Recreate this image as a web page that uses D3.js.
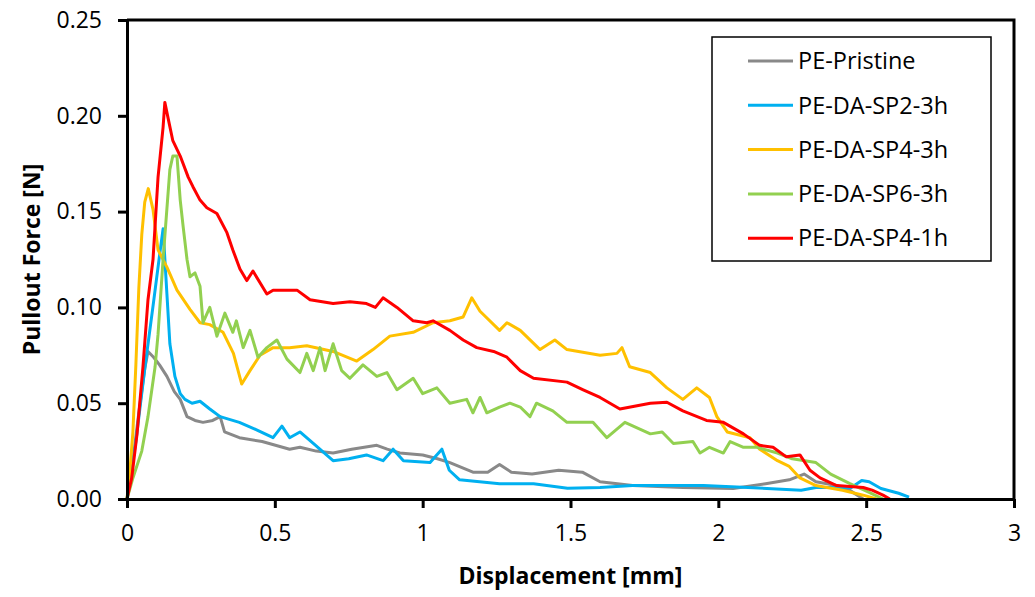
<!DOCTYPE html>
<html>
<head>
<meta charset="utf-8">
<script src="https://cdn.jsdelivr.net/npm/d3@7"></script>
<style>
  body { margin: 0; background: #fff; }
  svg text { font-family: "Open Sans", sans-serif; fill: #000; }
</style>
</head>
<body>
<svg id="drawing_region"></svg>
<script>
// pullout curves: [displacement (mm), force (N)]
const pristine = [[0,0],[0.02,0.02],[0.04,0.045],[0.06,0.068],[0.071,0.077],[0.09,0.074],[0.11,0.07],[0.135,0.064],[0.16,0.056],[0.18,0.052],[0.203,0.043],[0.23,0.041],[0.257,0.040],[0.29,0.041],[0.315,0.043],[0.33,0.035],[0.38,0.032],[0.457,0.030],[0.55,0.026],[0.585,0.027],[0.64,0.025],[0.697,0.024],[0.76,0.026],[0.845,0.028],[0.88,0.026],[0.923,0.024],[1.0,0.023],[1.05,0.021],[1.092,0.019],[1.17,0.014],[1.22,0.014],[1.26,0.018],[1.30,0.014],[1.37,0.013],[1.46,0.015],[1.54,0.014],[1.6,0.009],[1.71,0.007],[1.88,0.006],[2.05,0.0055],[2.16,0.008],[2.24,0.010],[2.29,0.013],[2.33,0.009],[2.40,0.007],[2.445,0.0045],[2.47,0.002],[2.49,0]];
const sp2_3h = [[0,0],[0.03,0.03],[0.06,0.068],[0.09,0.103],[0.11,0.127],[0.122,0.141],[0.135,0.107],[0.145,0.081],[0.162,0.064],[0.18,0.055],[0.196,0.052],[0.22,0.050],[0.247,0.051],[0.28,0.047],[0.315,0.043],[0.38,0.040],[0.44,0.036],[0.494,0.032],[0.524,0.038],[0.55,0.032],[0.585,0.035],[0.63,0.029],[0.697,0.020],[0.75,0.021],[0.81,0.023],[0.866,0.020],[0.9,0.026],[0.935,0.020],[1.025,0.019],[1.065,0.026],[1.09,0.015],[1.125,0.010],[1.26,0.008],[1.375,0.008],[1.49,0.0056],[1.6,0.006],[1.71,0.007],[1.83,0.007],[1.95,0.007],[2.1,0.006],[2.28,0.0046],[2.33,0.006],[2.40,0.006],[2.45,0.006],[2.485,0.0097],[2.51,0.009],[2.55,0.0055],[2.61,0.003],[2.645,0.001]];
const sp4_3h = [[0,0],[0.01,0.015],[0.02,0.035],[0.03,0.07],[0.04,0.11],[0.05,0.138],[0.06,0.155],[0.072,0.162],[0.088,0.151],[0.105,0.13],[0.135,0.121],[0.169,0.109],[0.213,0.099],[0.247,0.092],[0.28,0.091],[0.325,0.087],[0.36,0.076],[0.388,0.060],[0.416,0.067],[0.45,0.075],[0.494,0.079],[0.55,0.079],[0.608,0.080],[0.697,0.077],[0.777,0.072],[0.832,0.078],[0.889,0.085],[0.968,0.087],[1.035,0.092],[1.092,0.093],[1.137,0.095],[1.166,0.105],[1.194,0.098],[1.26,0.088],[1.285,0.092],[1.33,0.088],[1.397,0.078],[1.447,0.083],[1.488,0.078],[1.6,0.075],[1.657,0.076],[1.674,0.079],[1.70,0.069],[1.77,0.066],[1.826,0.058],[1.88,0.052],[1.927,0.058],[1.97,0.053],[1.995,0.043],[2.03,0.035],[2.107,0.032],[2.14,0.026],[2.2,0.020],[2.24,0.017],[2.276,0.011],[2.33,0.007],[2.42,0.0046],[2.49,0.002],[2.535,0]];
const sp6_3h = [[0,0],[0.02,0.011],[0.05,0.025],[0.071,0.043],[0.095,0.069],[0.105,0.086],[0.122,0.125],[0.145,0.172],[0.155,0.179],[0.169,0.179],[0.18,0.156],[0.19,0.142],[0.203,0.125],[0.213,0.116],[0.23,0.118],[0.247,0.111],[0.257,0.092],[0.28,0.100],[0.304,0.085],[0.331,0.097],[0.358,0.087],[0.37,0.093],[0.393,0.079],[0.416,0.088],[0.443,0.074],[0.473,0.079],[0.507,0.083],[0.541,0.073],[0.585,0.066],[0.608,0.076],[0.63,0.067],[0.653,0.079],[0.67,0.067],[0.697,0.081],[0.726,0.067],[0.754,0.063],[0.798,0.070],[0.845,0.064],[0.879,0.066],[0.913,0.057],[0.968,0.063],[1.0,0.055],[1.048,0.058],[1.092,0.050],[1.149,0.052],[1.17,0.045],[1.194,0.053],[1.217,0.045],[1.26,0.048],[1.295,0.050],[1.33,0.048],[1.363,0.043],[1.385,0.050],[1.44,0.046],[1.488,0.040],[1.576,0.040],[1.623,0.032],[1.684,0.040],[1.77,0.034],[1.81,0.035],[1.848,0.029],[1.914,0.030],[1.938,0.024],[1.97,0.027],[2.017,0.024],[2.04,0.030],[2.085,0.027],[2.13,0.027],[2.2,0.024],[2.25,0.021],[2.33,0.019],[2.38,0.013],[2.445,0.008],[2.51,0.0035],[2.557,0]];
const sp4_1h = [[0,0],[0.016,0.011],[0.034,0.034],[0.054,0.069],[0.071,0.104],[0.088,0.125],[0.105,0.168],[0.122,0.194],[0.128,0.207],[0.14,0.198],[0.155,0.187],[0.18,0.179],[0.207,0.168],[0.223,0.163],[0.247,0.156],[0.27,0.152],[0.304,0.149],[0.338,0.139],[0.358,0.130],[0.382,0.120],[0.405,0.114],[0.426,0.119],[0.473,0.107],[0.494,0.109],[0.575,0.109],[0.619,0.104],[0.697,0.102],[0.754,0.103],[0.81,0.102],[0.84,0.100],[0.866,0.105],[0.913,0.100],[0.968,0.093],[1.014,0.092],[1.035,0.093],[1.092,0.088],[1.137,0.083],[1.183,0.079],[1.24,0.077],[1.285,0.074],[1.33,0.067],[1.375,0.063],[1.488,0.061],[1.543,0.057],[1.6,0.053],[1.667,0.047],[1.77,0.050],[1.826,0.0505],[1.88,0.046],[1.96,0.041],[2.017,0.040],[2.085,0.034],[2.14,0.028],[2.185,0.027],[2.23,0.022],[2.276,0.023],[2.31,0.015],[2.344,0.011],[2.40,0.007],[2.49,0.006],[2.52,0.0046],[2.557,0.002],[2.58,0]];

const seriesNames = ['PE-Pristine', 'PE-DA-SP2-3h', 'PE-DA-SP4-3h', 'PE-DA-SP6-3h', 'PE-DA-SP4-1h'];
const seriesData = [pristine, sp2_3h, sp4_3h, sp6_3h, sp4_1h];
const seriesColors = ['#898989', '#00b0f0', '#ffc000', '#92d050', '#ff0000'];

const xTicks = [0, 0.5, 1, 1.5, 2, 2.5, 3];
const yTicks = [0, 0.05, 0.10, 0.15, 0.20, 0.25];

const width = 1035, height = 597;
const margin = {top: 20, right: 21, bottom: 98, left: 127};
const innerW = width - margin.left - margin.right;
const innerH = height - margin.top - margin.bottom;

const svg = d3.select('#drawing_region')
    .attr('width', width)
    .attr('height', height);

const chart = svg.append('g')
    .attr('transform', `translate(${margin.left}, ${margin.top})`);

const x = d3.scaleLinear().domain([0, 3]).range([0, innerW]);
const y = d3.scaleLinear().domain([0, 0.25]).range([innerH, 0]);

// curves
const line = d3.line()
    .x(d => x(d[0]))
    .y(d => y(d[1]));

chart.selectAll('.curve')
    .data(seriesData)
    .enter()
    .append('path')
    .attr('class', 'curve')
    .attr('d', line)
    .attr('fill', 'none')
    .attr('stroke', (d, i) => seriesColors[i])
    .attr('stroke-width', 3)
    .attr('stroke-linejoin', 'round');

// frame: top and right edges
chart.append('path')
    .attr('d', `M0,0H${innerW}V${innerH}`)
    .attr('fill', 'none')
    .attr('stroke', '#000')
    .attr('stroke-width', 3);

// axes
const xAxis = chart.append('g')
    .attr('transform', `translate(0, ${innerH})`)
    .call(d3.axisBottom(x).tickValues(xTicks).tickFormat(d3.format('')).tickSizeInner(9).tickSizeOuter(0).tickPadding(17));

const yAxis = chart.append('g')
    .call(d3.axisLeft(y).tickValues(yTicks).tickFormat(d3.format('.2f')).tickSizeInner(9).tickSizeOuter(0).tickPadding(16));

[xAxis, yAxis].forEach(ax => {
    ax.select('.domain').attr('stroke', '#000').attr('stroke-width', 3);
    ax.selectAll('.tick line').attr('stroke', '#000').attr('stroke-width', 3);
    ax.selectAll('.tick text')
        .style('font-family', '"Open Sans", sans-serif')
        .style('font-size', '23px');
});

// axis titles
svg.append('text')
    .attr('x', margin.left + innerW / 2)
    .attr('y', 584)
    .attr('text-anchor', 'middle')
    .style('font-size', '23px')
    .style('font-weight', 'bold')
    .text('Displacement [mm]');

svg.append('text')
    .attr('transform', `translate(40, ${margin.top + innerH / 2}) rotate(-90)`)
    .attr('text-anchor', 'middle')
    .style('font-size', '23px')
    .style('font-weight', 'bold')
    .text('Pullout Force [N]');

// legend
const legend = svg.append('g');
legend.append('rect')
    .attr('x', 712).attr('y', 37)
    .attr('width', 279).attr('height', 224)
    .attr('fill', '#fff')
    .attr('stroke', '#000')
    .attr('stroke-width', 1.5);

const items = legend.selectAll('.item')
    .data(seriesNames)
    .enter()
    .append('g')
    .attr('class', 'item')
    .attr('transform', (d, i) => `translate(748, ${61 + i * 44.3})`);

items.append('line')
    .attr('x1', 0).attr('x2', 45)
    .attr('stroke', (d, i) => seriesColors[i])
    .attr('stroke-width', 3);

items.append('text')
    .attr('x', 50)
    .attr('dy', '0.35em')
    .style('font-size', '23.5px')
    .text(d => d);
</script>
</body>
</html>
